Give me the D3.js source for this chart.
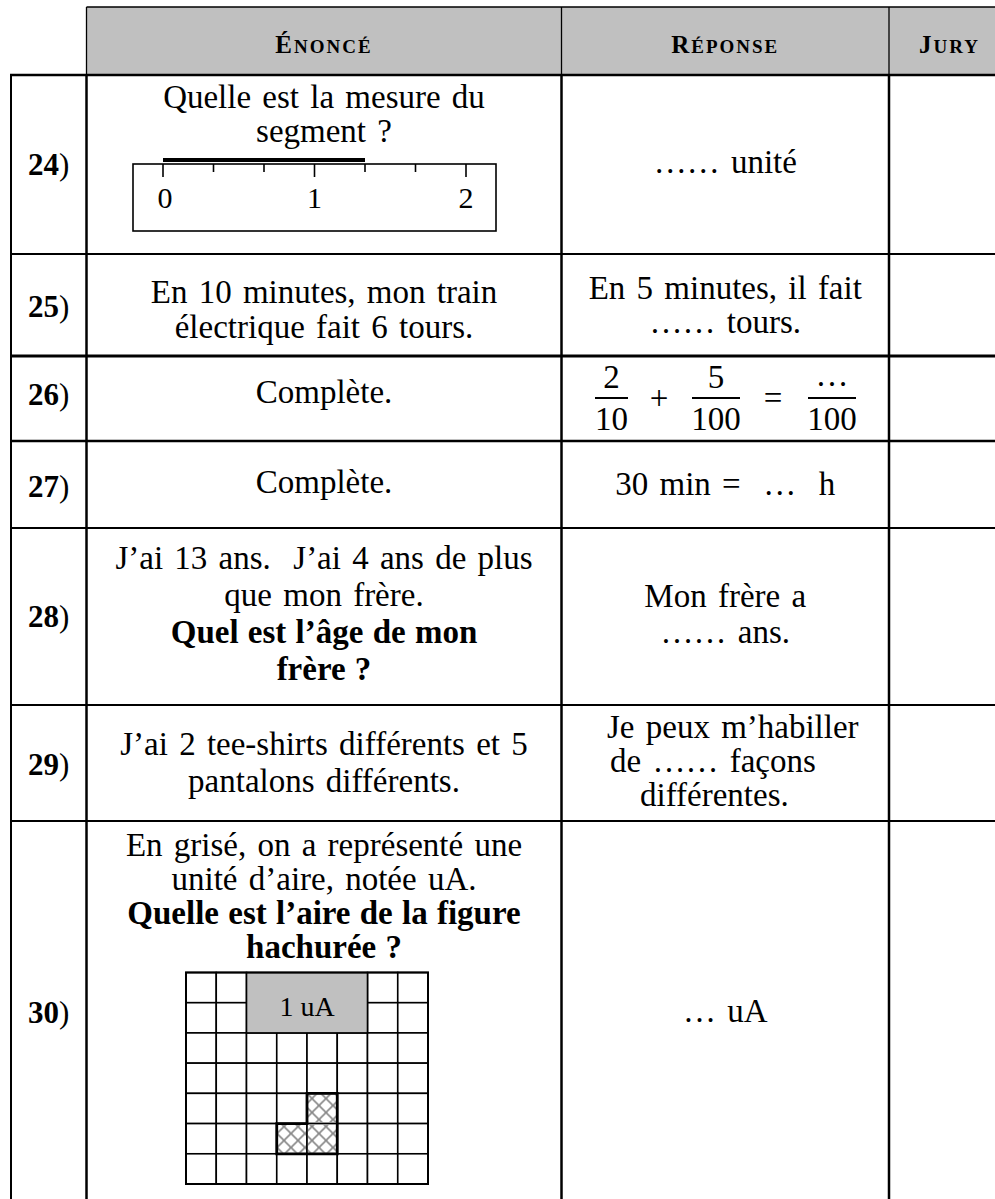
<!DOCTYPE html>
<html>
<head>
<meta charset="utf-8">
<script src="https://cdn.jsdelivr.net/npm/d3@7/dist/d3.min.js"></script>
<style>
  html, body { margin: 0; padding: 0; background: #fff; }
  svg { display: block; }
  text { font-family: "Liberation Serif", "Times New Roman", serif; fill: #000; }
</style>
</head>
<body>
<svg id="chart" width="995" height="1199"></svg>
<script>
// ---------- data ----------
const headers = ["Énoncé", "Réponse", "Jury"];
const questionNumbers = ["24", "25", "26", "27", "28", "29", "30"];
const enonceLines = [
  ["Quelle est la mesure du", "segment ?"],
  ["En 10 minutes, mon train", "électrique fait 6 tours."],
  ["Complète."],
  ["Complète."],
  ["J’ai 13 ans.  J’ai 4 ans de plus", "que mon frère."],
  ["J’ai 2 tee-shirts différents et 5", "pantalons différents."],
  ["En grisé, on a représenté une", "unité d’aire, notée uA."]
];
const enonceQuestion = [
  [], [], [], [],
  ["Quel est l’âge de mon", "frère ?"],
  [],
  ["Quelle est l’aire de la figure", "hachurée ?"]
];
const reponseLines = [
  ["…… unité"],
  ["En 5 minutes, il fait", "…… tours."],
  [],
  ["30 min =  …  h"],
  ["Mon frère a", "…… ans."],
  ["Je peux m’habiller", "de …… façons", "différentes."],
  ["… uA"]
];
const fractionNumerators = ["2", "5", "…"];
const fractionDenominators = ["10", "100", "100"];
const fractionOperators = ["+", "="];
const rulerLabels = [0, 1, 2];
const rulerSubdivisions = 3;
const segmentLength = 4 / 3;
const gridCols = 8;
const gridRows = 7;
const unitCellCols = [2, 6];
const unitCellRows = [0, 2];
const unitLabel = "1 uA";
const hatchedCells = [[4, 4], [3, 5], [4, 5]];

// ---------- layout ----------
const W = 995, H = 1199;
const headerTop = 7, headerBottom = 75;
const rowEdges = [75, 254, 356, 441, 528, 705, 821, 1199];
const rowLineWidths = [2.5, 2, 3, 2.5, 2, 2, 2];
const colEdges = [11, 86.5, 561.5, 889, 1010];
const enonceY0 = [108, 303, 403, 493, 569, 755, 856];
const enonceLH = [34, 35, 0, 0, 37, 37, 34];
const reponseY0 = [173, 299, 0, 495, 607, 738, 1022];
const reponseLH = [0, 34, 0, 0, 36, 34, 0];
const labelY = [175, 317, 405, 497, 627, 775, 1023];
const row29StartX = [607, 610, 640];
const bodyFont = 33;

const svg = d3.select("#chart");

const colMid = i => (colEdges[i] + colEdges[i + 1]) / 2;
const col2Mid = (colEdges[2] + colEdges[3]) / 2;

// header background
svg.append("rect")
  .attr("x", colEdges[1]).attr("y", headerTop)
  .attr("width", W - colEdges[1]).attr("height", headerBottom - headerTop)
  .attr("fill", "#c0c0c0");
// header lines (thin)
svg.append("line").attr("x1", colEdges[1]).attr("x2", W)
  .attr("y1", headerTop).attr("y2", headerTop)
  .attr("stroke", "#000").attr("stroke-width", 1.3);
[1, 2, 3].forEach(i => {
  svg.append("line").attr("x1", colEdges[i]).attr("x2", colEdges[i])
    .attr("y1", headerTop).attr("y2", headerBottom)
    .attr("stroke", "#000").attr("stroke-width", 1.3);
});
// header labels (small caps)
headers.forEach((h, i) => {
  const t = svg.append("text")
    .attr("x", colMid(i + 1)).attr("y", 53)
    .attr("text-anchor", "middle")
    .attr("font-weight", "bold")
    .attr("letter-spacing", 2);
  t.append("tspan").attr("font-size", 25).text(h[0].toUpperCase());
  t.append("tspan").attr("font-size", 19).text(h.slice(1).toUpperCase());
});

// row horizontal lines
rowEdges.slice(0, -1).forEach((y, i) => {
  svg.append("line").attr("x1", colEdges[0] - 1).attr("x2", W)
    .attr("y1", y).attr("y2", y)
    .attr("stroke", "#000").attr("stroke-width", rowLineWidths[i]);
});
// vertical body lines
[0, 1, 2, 3].forEach(i => {
  svg.append("line").attr("x1", colEdges[i]).attr("x2", colEdges[i])
    .attr("y1", headerBottom - 1).attr("y2", H)
    .attr("stroke", "#000").attr("stroke-width", i === 0 ? 2 : 2.5);
});

// question numbers
questionNumbers.forEach((q, i) => {
  const t = svg.append("text")
    .attr("x", colMid(0)).attr("y", labelY[i])
    .attr("text-anchor", "middle").attr("font-size", 31);
  t.append("tspan").attr("font-weight", "bold").text(q);
  t.append("tspan").text(")");
});

// énoncé texts
enonceLines.forEach((lines, i) => {
  const all = lines.map(s => ({ s, b: false }))
    .concat(enonceQuestion[i].map(s => ({ s, b: true })));
  all.forEach((d, k) => {
    svg.append("text")
      .attr("x", colMid(1)).attr("y", enonceY0[i] + k * enonceLH[i])
      .attr("text-anchor", "middle")
      .attr("font-size", bodyFont)
      .attr("font-weight", d.b ? "bold" : "normal")
      .attr("word-spacing", d.b ? 1 : 3)
      .style("white-space", "pre")
      .text(d.s);
  });
});

// réponse texts
reponseLines.forEach((lines, i) => {
  lines.forEach((s, k) => {
    const startMode = i === 5;
    svg.append("text")
      .attr("x", startMode ? row29StartX[k] : col2Mid)
      .attr("y", reponseY0[i] + k * reponseLH[i])
      .attr("text-anchor", startMode ? "start" : "middle")
      .attr("font-size", bodyFont)
      .attr("word-spacing", 3)
      .style("white-space", "pre")
      .text(s);
  });
});

// fractions (row 26)
const fracCenters = [611.5, 716, 832];
const fracHalfW = [16.5, 24, 24];
const opCenters = [659, 773];
fractionNumerators.forEach((n, i) => {
  svg.append("text").attr("x", fracCenters[i]).attr("y", i === 2 ? 386 : 388)
    .attr("text-anchor", "middle").attr("font-size", bodyFont).text(n);
  svg.append("line")
    .attr("x1", fracCenters[i] - fracHalfW[i]).attr("x2", fracCenters[i] + fracHalfW[i])
    .attr("y1", 398).attr("y2", 398)
    .attr("stroke", "#000").attr("stroke-width", 2);
  svg.append("text").attr("x", fracCenters[i]).attr("y", 430)
    .attr("text-anchor", "middle").attr("font-size", bodyFont).text(fractionDenominators[i]);
});
fractionOperators.forEach((o, i) => {
  svg.append("text").attr("x", opCenters[i]).attr("y", 409)
    .attr("text-anchor", "middle").attr("font-size", bodyFont).text(o);
});

// ruler (row 24)
const rx = d3.scaleLinear().domain([rulerLabels[0], rulerLabels[rulerLabels.length - 1]]).range([163, 466]);
const ruler = svg.append("g");
ruler.append("rect").attr("x", 133).attr("y", 164).attr("width", 363).attr("height", 67)
  .attr("fill", "none").attr("stroke", "#000").attr("stroke-width", 1.6);
const tickVals = d3.range(0, rulerLabels.length - 1 + 1e-9, 1 / rulerSubdivisions);
ruler.selectAll("line.tick").data(tickVals).join("line")
  .attr("class", "tick")
  .attr("x1", d => rx(d)).attr("x2", d => rx(d))
  .attr("y1", 164).attr("y2", (d, i) => i % rulerSubdivisions === 0 ? 177 : 172)
  .attr("stroke", "#000").attr("stroke-width", 1.6);
ruler.selectAll("text.lab").data(rulerLabels).join("text")
  .attr("class", "lab")
  .attr("x", d => rx(d) + (d === 0 ? 2 : 0)).attr("y", 208)
  .attr("text-anchor", "middle").attr("font-size", 30)
  .text(d => d);
ruler.append("line")
  .attr("x1", rx(0)).attr("x2", rx(segmentLength))
  .attr("y1", 160).attr("y2", 160)
  .attr("stroke", "#000").attr("stroke-width", 4);

// grid (row 30)
const gx = d3.scaleLinear().domain([0, gridCols]).range([186, 428]);
const gy = d3.scaleLinear().domain([0, gridRows]).range([972.5, 1184]);
const defs = svg.append("defs");
const P = 14;
const pat = defs.append("pattern").attr("id", "hatch")
  .attr("patternUnits", "userSpaceOnUse")
  .attr("x", gx(0)).attr("y", gy(0))
  .attr("width", P).attr("height", P);
pat.append("path")
  .attr("d", `M0,0 L${P},${P} M${-P/2},${P/2} L${P/2},${1.5*P} M${P/2},${-P/2} L${1.5*P},${P/2}`)
  .attr("stroke", "#888").attr("stroke-width", 1.6);
pat.append("path")
  .attr("d", `M0,${P} L${P},0 M${-P/2},${P/2} L${P/2},${-P/2} M${P/2},${1.5*P} L${1.5*P},${P/2}`)
  .attr("stroke", "#888").attr("stroke-width", 1.6);

const grid = svg.append("g");
const cells = [];
for (let r = 0; r < gridRows; r++) for (let c = 0; c < gridCols; c++) {
  const inUnit = c >= unitCellCols[0] && c < unitCellCols[1] && r >= unitCellRows[0] && r < unitCellRows[1];
  if (!inUnit) cells.push({ c, r });
}
grid.selectAll("rect.cell").data(cells).join("rect")
  .attr("class", "cell")
  .attr("x", d => gx(d.c)).attr("y", d => gy(d.r))
  .attr("width", gx(1) - gx(0)).attr("height", gy(1) - gy(0))
  .attr("fill", "#fff").attr("stroke", "#000").attr("stroke-width", 1.6);
grid.selectAll("rect.hatch").data(hatchedCells).join("rect")
  .attr("class", "hatch")
  .attr("x", d => gx(d[0]) + 1).attr("y", d => gy(d[1]) + 1)
  .attr("width", gx(1) - gx(0) - 2).attr("height", gy(1) - gy(0) - 2)
  .attr("fill", "url(#hatch)");
grid.append("rect")
  .attr("x", gx(unitCellCols[0])).attr("y", gy(unitCellRows[0]))
  .attr("width", gx(unitCellCols[1]) - gx(unitCellCols[0]))
  .attr("height", gy(unitCellRows[1]) - gy(unitCellRows[0]))
  .attr("fill", "#c0c0c0").attr("stroke", "#000").attr("stroke-width", 1.6);
grid.append("text")
  .attr("x", (gx(unitCellCols[0]) + gx(unitCellCols[1])) / 2)
  .attr("y", gy(1.43))
  .attr("text-anchor", "middle").attr("font-size", 28)
  .text(unitLabel);
// outline of hatched figure
const lPath = d3.path();
lPath.moveTo(gx(4), gy(4)); lPath.lineTo(gx(5), gy(4)); lPath.lineTo(gx(5), gy(6));
lPath.lineTo(gx(3), gy(6)); lPath.lineTo(gx(3), gy(5)); lPath.lineTo(gx(4), gy(5));
lPath.closePath();
grid.append("path").attr("d", lPath.toString())
  .attr("fill", "none").attr("stroke", "#000").attr("stroke-width", 2.8);
// outer border
grid.append("rect")
  .attr("x", gx(0)).attr("y", gy(0))
  .attr("width", gx(gridCols) - gx(0)).attr("height", gy(gridRows) - gy(0))
  .attr("fill", "none").attr("stroke", "#000").attr("stroke-width", 2);
</script>
</body>
</html>
